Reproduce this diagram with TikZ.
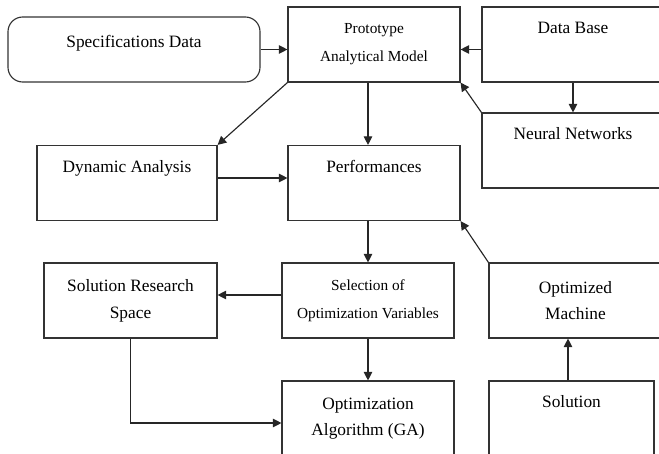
\documentclass[tikz,border=0pt]{standalone}
\usepackage{fontspec}
\setmainfont{Liberation Serif}
\usepackage{tikz}
\usetikzlibrary{arrows.meta,positioning,calc}

\begin{document}
\begin{tikzpicture}[
  x=0.75pt, y=-0.75pt,
  box/.style={draw=black!80,line width=0.85pt,minimum height=56.25pt,inner sep=0pt,
    align=center,font=\fontsize{13}{20}\selectfont},
  oneline/.style={text height=20pt,text depth=36.25pt},
  smalltxt/.style={font=\fontsize{11.5}{21}\selectfont},
  arr/.style={-{Triangle[length=6.5pt,width=6.5pt]},line width=0.85pt,draw=black!85}
]
  \useasboundingbox (0,0) rectangle (659,453);

  % top row
  \node[box,rounded corners=11pt,minimum width=189pt,minimum height=48.75pt,
        text height=23pt,text depth=25.75pt] (spec) at (134,49.5) {Specifications Data};
  \node[box,smalltxt,minimum width=129pt] (proto) at (374,44.5) {Prototype\\Analytical Model};
  \node[box,oneline,minimum width=136.5pt] (db) at (573,44.5) {Data Base};
  \node[box,oneline,minimum width=136.5pt] (nn) at (573,150.5) {Neural Networks};

  % middle row
  \node[box,oneline,minimum width=135pt] (dyn) at (127,183) {Dynamic Analysis};
  \node[box,oneline,minimum width=129pt] (perf) at (374,183) {Performances};

  % lower rows
  \node[box,smalltxt,minimum width=129pt] (sel) at (368,300.5) {Selection of\\Optimization Variables};
  \node[box,minimum width=129.75pt] (srs) at (130.5,300.5) {Solution Research\\Space};
  \node[box,minimum width=129.75pt] (om) at (575.5,300.5) {Optimized\\Machine};
  \node[box,minimum width=129pt] (opt) at (368,418.5) {Optimization\\Algorithm (GA)};
  \node[box,oneline,minimum width=123.75pt] (sol) at (571.5,418.5) {Solution};

  \draw[arr] (spec.east) -- (spec.east -| proto.west);
  \draw[arr] (db.west |- spec.east) -- (proto.east |- spec.east);
  \draw[arr] (db) -- (nn);
  \draw[arr] (nn.north west) -- (proto.south east);
  \draw[arr] (proto.south west) -- (dyn.north east);
  \draw[arr] (proto.south -| sel) -- (perf.north -| sel);
  \draw[arr] (dyn.east |- 0,178) -- (perf.west |- 0,178);
  \draw[arr] (perf.south -| sel) -- (sel);
  \draw[arr] (sel.west |- 0,295) -- (srs.east |- 0,295);
  \draw[arr] (sel) -- (opt);
  \draw[arr] (srs.south) |- (opt.west |- 0,423);
  \draw[arr] (sol.north -| 568,0) -- (om.south -| 568,0);
  \draw[arr] (om.north west) -- (perf.south east);
\end{tikzpicture}
\end{document}
